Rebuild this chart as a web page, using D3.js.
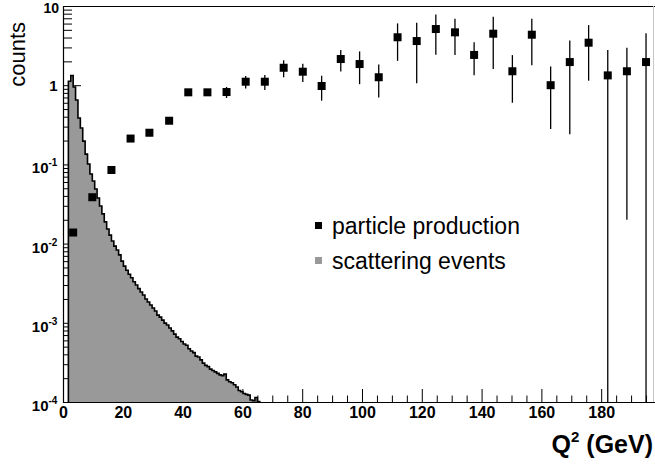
<!DOCTYPE html>
<html lang="en">
<head>
<meta charset="UTF-8">
<title>counts vs Q2</title>
<style>
  body { margin: 0; background: #fff; }
  text { font-family: "Liberation Sans", Arial, Helvetica, sans-serif; }
</style>
</head>
<body>
<div id="chart"></div>
<script src="https://cdn.jsdelivr.net/npm/d3@7/dist/d3.min.js"></script>
<script>
const width = 655, height = 466;

// particle production (coarse bins): centre, counts, error
const prodQ2 = [3.4, 9.8, 16.2, 22.6, 28.9, 35.5, 41.9, 48.3, 54.7, 61.1, 67.5,
    73.8, 80.2, 86.5, 92.9, 99.2, 105.6, 111.9, 118.3, 124.7, 131.1, 137.5,
    143.9, 150.3, 156.8, 163.1, 169.5, 175.8, 182.2, 188.6, 195.0];
const prodCounts = [0.0138, 0.0385, 0.085, 0.212, 0.251, 0.356, 0.813, 0.813, 0.82,
    1.107, 1.107, 1.66, 1.48, 0.977, 2.14, 1.85, 1.26, 4.03, 3.61, 5.12, 4.65,
    2.41, 4.47, 1.50, 4.34, 1.0, 1.96, 3.44, 1.33, 1.50, 1.96];
const prodErr = [0.001, 0.003, 0.006, 0.015, 0.02, 0.03, 0.06, 0.07, 0.13,
    0.2, 0.24, 0.4, 0.38, 0.34, 0.65, 0.82, 0.56, 2.0, 2.55, 2.7, 2.25,
    1.07, 2.87, 0.9, 2.55, 0.72, 1.72, 2.3, 1.45, 1.48, 2.56];

// scattering events (fine bins starting at scatStart, width scatWidth)
const scatStart = 1.8, scatWidth = 0.8;
const scatCounts = [1.12, 1.32, 0.95, 0.65, 0.385, 0.288, 0.197, 0.135, 0.101, 0.0757,
    0.0617, 0.0489, 0.0377, 0.0299, 0.0237, 0.0188, 0.0153, 0.0128, 0.0108, 0.0093,
    0.0083, 0.0072, 0.0060, 0.0052, 0.0046, 0.0041, 0.0037, 0.0033, 0.0030, 0.0027,
    0.00245, 0.00224, 0.0020, 0.00183, 0.00168, 0.00154, 0.00141, 0.00125, 0.00118, 0.00108,
    0.00099, 0.00094, 0.00086, 0.00079, 0.00072, 0.00066, 0.00063, 0.00058, 0.00054, 0.00052,
    0.00047, 0.00044, 0.00042, 0.00038, 0.00037, 0.00034, 0.00031, 0.00029, 0.00028, 0.00026,
    0.00025, 0.00024, 0.00023, 0.00022, 0.000215, 0.000225, 0.00019, 0.00018, 0.000175, 0.000165,
    0.000155, 0.00014, 0.000135, 0.000128, 0.000125, 0.000122, 0.000106, 0.000104, 0.000114, 0.000101];

const xMajor = [0, 20, 40, 60, 80, 100, 120, 140, 160, 180];
const yDecades = [-4, -3, -2, -1, 0, 1];
const legendLabels = ["particle production", "scattering events"];

const m = {left: 63, right: 655, top: 6, bottom: 402};
const grey = "#999999";

const svg = d3.select("#chart").append("svg")
    .attr("width", width)
    .attr("height", height)
    .style("display", "block");

const x = d3.scaleLinear().domain([0, 198]).range([m.left, m.right]);
const y = d3.scaleLog().domain([1e-4, 10]).range([m.bottom, m.top]);

// minor x ticks every 5
const xMinor = d3.range(0, 198, 5).filter(v => v % 20 !== 0);

// x axis
svg.append("g")
    .attr("transform", `translate(0, ${m.bottom})`)
    .call(d3.axisBottom(x).tickValues(xMinor).tickSize(-6.5).tickSizeOuter(0).tickFormat(""))
    .call(g => g.select(".domain").remove());

svg.append("g")
    .attr("transform", `translate(0, ${m.bottom})`)
    .call(d3.axisBottom(x).tickValues(xMajor).tickSize(-13).tickSizeOuter(0).tickPadding(5))
    .call(g => g.select(".domain").remove())
    .call(g => g.selectAll(".tick text")
        .attr("dy", "0.71em")
        .style("font-family", '"Liberation Sans", Arial, sans-serif')
        .style("font-size", "16px")
        .style("font-weight", "bold")
        .attr("fill", "#000"));

// y axis: minor ticks 2..9 per decade, majors at decades
const yMinor = [];
yDecades.slice(0, -1).forEach(p => {
    for (let k = 2; k <= 9; k++) yMinor.push(k * Math.pow(10, p));
});
svg.append("g")
    .attr("transform", `translate(${m.left}, 0)`)
    .call(d3.axisLeft(y).tickValues(yMinor).tickSize(-9).tickSizeOuter(0).tickFormat(""))
    .call(g => g.select(".domain").remove());
svg.append("g")
    .attr("transform", `translate(${m.left}, 0)`)
    .call(d3.axisLeft(y).tickValues(yDecades.map(p => Math.pow(10, p))).tickSize(-18).tickSizeOuter(0).tickFormat(""))
    .call(g => g.select(".domain").remove());

// y tick labels
yDecades.forEach(p => {
    const yy = y(Math.pow(10, p));
    if (p === 0 || p === 1) {
        svg.append("text")
            .attr("x", p === 1 ? 59 : 57.5)
            .attr("y", p === 1 ? yy + 6.5 : yy + 6)
            .attr("text-anchor", "end")
            .style("font-size", p === 1 ? "14px" : "15px")
            .style("font-weight", "bold")
            .text(p === 1 ? "10" : "1");
    } else {
        svg.append("text")
            .attr("x", 48.5)
            .attr("y", yy + 9)
            .attr("text-anchor", "end")
            .style("font-size", "15px")
            .style("font-weight", "bold")
            .text("10");
        svg.append("text")
            .attr("x", 48.5)
            .attr("y", yy + 2)
            .style("font-size", "10px")
            .style("font-weight", "bold")
            .text("-" + (-p));
    }
});

// frame lines
svg.append("line").attr("x1", m.left).attr("x2", m.right).attr("y1", m.top + 0.5).attr("y2", m.top + 0.5)
    .attr("stroke", "#000").attr("stroke-width", 1.2);
svg.append("line").attr("x1", 653.5).attr("x2", 653.5).attr("y1", m.top).attr("y2", m.bottom)
    .attr("stroke", "#c8c8c8").attr("stroke-width", 1);
svg.append("line").attr("x1", m.left).attr("x2", m.right).attr("y1", m.bottom + 0.5).attr("y2", m.bottom + 0.5)
    .attr("stroke", "#000").attr("stroke-width", 1.2);

// scattering events histogram
const histPts = [[x(scatStart), m.bottom]];
scatCounts.forEach((c, i) => {
    const x0 = scatStart + i * scatWidth;
    histPts.push([x(x0), y(c)], [x(x0 + scatWidth), y(c)]);
});
histPts.push([x(scatStart + scatCounts.length * scatWidth), m.bottom]);

svg.append("path")
    .attr("d", d3.line()(histPts) + "Z")
    .attr("fill", grey)
    .attr("stroke", "none");
svg.append("path")
    .attr("d", d3.line()(histPts))
    .attr("fill", "none")
    .attr("stroke", "#000")
    .attr("stroke-width", 1.6)
    .attr("stroke-linejoin", "miter");

// left axis line on top
svg.append("line").attr("x1", m.left + 0.5).attr("x2", m.left + 0.5).attr("y1", m.top).attr("y2", m.bottom + 1)
    .attr("stroke", "#000").attr("stroke-width", 1.2);

// particle production: error bars + markers
const prod = prodQ2.map((q, i) => ({q, c: prodCounts[i], e: prodErr[i]}));
svg.append("g").selectAll("line")
    .data(prod)
    .join("line")
    .attr("x1", d => x(d.q)).attr("x2", d => x(d.q))
    .attr("y1", d => y(Math.min(d.c + d.e, 10)))
    .attr("y2", d => d.c - d.e > 1e-4 ? y(d.c - d.e) : m.bottom)
    .attr("stroke", "#000")
    .attr("stroke-width", 1.3);
svg.append("g").selectAll("rect")
    .data(prod)
    .join("rect")
    .attr("x", d => x(d.q) - 4)
    .attr("y", d => y(d.c) - 4)
    .attr("width", 8)
    .attr("height", 8)
    .attr("fill", "#000");

// legend
const legend = svg.append("g").attr("transform", "translate(315, 222)");
legendLabels.forEach((lab, i) => {
    legend.append("rect")
        .attr("x", 0).attr("y", i * 35)
        .attr("width", 7).attr("height", 7)
        .attr("fill", i === 0 ? "#000" : grey);
    legend.append("text")
        .attr("x", 17).attr("y", i * 35 + 12)
        .style("font-size", "23px")
        .text(lab);
});

// axis titles
svg.append("text")
    .attr("transform", "translate(25, 22) rotate(-90)")
    .attr("text-anchor", "end")
    .style("font-size", "22px")
    .text("counts");

const xt = svg.append("text")
    .attr("x", 653).attr("y", 453)
    .attr("text-anchor", "end")
    .style("font-size", "25px")
    .style("font-weight", "bold");
xt.append("tspan").text("Q");
xt.append("tspan").attr("dy", -11).style("font-size", "15px").text("2");
xt.append("tspan").attr("dy", 11).text(" (GeV)");
</script>
</body>
</html>
